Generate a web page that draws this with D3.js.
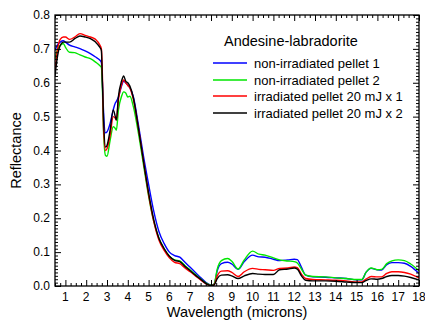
<!DOCTYPE html>
<html>
<head>
<meta charset="utf-8">
<script src="https://cdn.jsdelivr.net/npm/d3@7"></script>
<style>
  body { margin: 0; background: #fff; }
  svg { display: block; font-family: "Liberation Sans", Arial, sans-serif; }
</style>
</head>
<body>
<script>
// wavelength (microns)
const wavelengths = [
  0.5, 0.6, 0.75, 0.9, 1.0, 1.2, 1.45, 1.7, 1.95, 2.2,
  2.45, 2.65, 2.73, 2.78, 2.83, 2.93, 3.0, 3.15, 3.3, 3.4,
  3.45, 3.55, 3.7, 3.8, 3.9, 4.0, 4.1, 4.27, 4.5, 4.75,
  5.0, 5.25, 5.5, 5.75, 6.0, 6.25, 6.5, 6.75, 7.0, 7.25,
  7.5, 7.75, 8.0, 8.15, 8.3, 8.5, 8.8, 9.0, 9.3, 9.6,
  10.0, 10.3, 10.6, 11.0, 11.3, 11.7, 12.0, 12.15, 12.35, 12.55,
  12.9, 13.5, 14.0, 14.5, 15.0, 15.25, 15.45, 15.7, 16.0, 16.2,
  16.45, 16.7, 17.0, 17.3, 17.6, 18.0
];

const nonIrr1 = [
  0.695, 0.71, 0.72, 0.724, 0.72, 0.711, 0.706, 0.701, 0.694, 0.686,
  0.676, 0.667, 0.66, 0.60, 0.52, 0.452, 0.455, 0.48, 0.52, 0.54,
  0.545, 0.558, 0.59, 0.605, 0.60, 0.593, 0.585, 0.558, 0.48, 0.385,
  0.30, 0.22, 0.16, 0.125, 0.100, 0.09, 0.085, 0.07, 0.055, 0.04,
  0.025, 0.011, 0.003, 0.006, 0.045, 0.066, 0.07, 0.065, 0.049, 0.072,
  0.091, 0.086, 0.085, 0.079, 0.075, 0.077, 0.079, 0.078, 0.055, 0.032,
  0.027, 0.026, 0.024, 0.022, 0.018, 0.018, 0.04, 0.052, 0.048, 0.047,
  0.063, 0.069, 0.069, 0.067, 0.058, 0.037
];

const nonIrr2 = [
  0.67, 0.695, 0.71, 0.716, 0.705, 0.69, 0.689, 0.682, 0.676, 0.671,
  0.661, 0.651, 0.645, 0.58, 0.46, 0.385, 0.383, 0.43, 0.47, 0.465,
  0.46, 0.52, 0.56, 0.573, 0.57, 0.558, 0.56, 0.529, 0.455, 0.36,
  0.265, 0.19, 0.14, 0.11, 0.088, 0.077, 0.074, 0.06, 0.047, 0.034,
  0.021, 0.009, 0.002, 0.006, 0.05, 0.075, 0.081, 0.073, 0.05, 0.077,
  0.103, 0.094, 0.091, 0.083, 0.077, 0.074, 0.072, 0.068, 0.05, 0.032,
  0.028, 0.027, 0.024, 0.022, 0.019, 0.019, 0.04, 0.053, 0.048, 0.049,
  0.066, 0.074, 0.077, 0.075, 0.065, 0.045
];

const irr1 = [
  0.635, 0.69, 0.728, 0.735, 0.735, 0.728, 0.735, 0.745, 0.740, 0.735,
  0.728, 0.712, 0.700, 0.62, 0.47, 0.40, 0.405, 0.445, 0.50, 0.495,
  0.49, 0.55, 0.595, 0.608, 0.60, 0.592, 0.585, 0.55, 0.47, 0.37,
  0.27, 0.19, 0.135, 0.105, 0.083, 0.07, 0.066, 0.053, 0.042, 0.03,
  0.018, 0.007, 0.001, 0.004, 0.03, 0.044, 0.045, 0.04, 0.028, 0.042,
  0.052, 0.049, 0.048, 0.046, 0.052, 0.053, 0.056, 0.054, 0.035, 0.022,
  0.019, 0.018, 0.017, 0.015, 0.012, 0.012, 0.02, 0.028, 0.027, 0.027,
  0.037, 0.042, 0.042, 0.04, 0.035, 0.024
];

const irr2 = [
  0.62, 0.67, 0.71, 0.72, 0.72, 0.72, 0.73, 0.738, 0.735, 0.73,
  0.72, 0.705, 0.695, 0.60, 0.50, 0.41, 0.415, 0.46, 0.52, 0.50,
  0.49, 0.56, 0.605, 0.62, 0.605, 0.6, 0.59, 0.555, 0.47, 0.37,
  0.275, 0.195, 0.14, 0.11, 0.088, 0.076, 0.072, 0.058, 0.045, 0.032,
  0.02, 0.008, 0.001, 0.003, 0.022, 0.032, 0.033, 0.03, 0.022, 0.03,
  0.037, 0.035, 0.034, 0.034, 0.048, 0.05, 0.053, 0.05, 0.03, 0.017,
  0.015, 0.015, 0.014, 0.012, 0.01, 0.01, 0.016, 0.021, 0.02, 0.022,
  0.028, 0.031, 0.031, 0.029, 0.025, 0.018
];

const seriesNames = ['non-irradiated pellet 1', 'non-irradiated pellet 2',
                     'irradiated pellet 20 mJ x 1', 'irradiated pellet 20 mJ x 2'];
const seriesValues = [nonIrr1, nonIrr2, irr1, irr2];
const seriesColors = ['#0000ff', '#00e600', '#ff0000', '#000000'];

const xTicks = d3.range(1, 19);
const yTicks = [0.0, 0.1, 0.2, 0.3, 0.4, 0.5, 0.6, 0.7, 0.8];

// set up chart
const W = 425, H = 321;
const margin = { top: 15, right: 6, bottom: 35, left: 55 },
      width = W - margin.left - margin.right,
      height = H - margin.top - margin.bottom;

const svg = d3.select('body').append('svg')
    .attr('width', W)
    .attr('height', H);

const g = svg.append('g')
    .attr('transform', `translate(${margin.left},${margin.top})`);

const x = d3.scaleLinear().domain([0.5, 18]).range([0, width]);
const y = d3.scaleLinear().domain([0, 0.8]).range([height, 0]);

// clip
svg.append('defs').append('clipPath').attr('id', 'clip')
  .append('rect').attr('width', width).attr('height', height);

// lines
const line = d3.line()
    .x(d => x(d[0]))
    .y(d => y(d[1]))
    .curve(d3.curveMonotoneX);

const plot = g.append('g').attr('clip-path', 'url(#clip)');
seriesValues.forEach((vals, i) => {
  plot.append('path')
      .datum(wavelengths.map((w, k) => [w, vals[k]]))
      .attr('fill', 'none')
      .attr('stroke', seriesColors[i])
      .attr('stroke-width', 1.4)
      .attr('stroke-linejoin', 'round')
      .attr('d', line);
});

// axes: inward ticks on all four sides
const xMinor = d3.range(0.5, 18.001, 0.25).filter(v => Math.abs(v - Math.round(v)) > 1e-6);
const yMinor = d3.range(0, 80.5, 1).map(v => v / 100).filter(v => Math.round(v * 100) % 10 !== 0);

function ticks(axisFn, scale, values, size) {
  return axisFn(scale).tickValues(values).tickSize(size).tickFormat('');
}

g.append('g').attr('transform', `translate(0,${height})`)
  .call(ticks(d3.axisTop, x, xMinor, 3));
g.append('g').attr('transform', `translate(0,${height})`)
  .call(ticks(d3.axisTop, x, xTicks, 6));
g.append('g').call(ticks(d3.axisBottom, x, xMinor, 3));
g.append('g').call(ticks(d3.axisBottom, x, xTicks, 6));

g.append('g').call(ticks(d3.axisRight, y, yMinor, 3));
g.append('g').call(ticks(d3.axisRight, y, yTicks, 6));
g.append('g').attr('transform', `translate(${width},0)`)
  .call(ticks(d3.axisLeft, y, yMinor, 3));
g.append('g').attr('transform', `translate(${width},0)`)
  .call(ticks(d3.axisLeft, y, yTicks, 6));

g.selectAll('.domain').remove();
g.selectAll('.tick line').attr('stroke', '#000');

// frame
g.append('rect')
  .attr('width', width).attr('height', height)
  .attr('fill', 'none').attr('stroke', '#000').attr('stroke-width', 1.3);

// tick labels
g.selectAll('.xlab').data(xTicks).enter().append('text')
  .attr('x', d => x(d))
  .attr('y', height + 15)
  .attr('text-anchor', 'middle')
  .attr('font-size', 12)
  .text(d => d);

g.selectAll('.ylab').data(yTicks).enter().append('text')
  .attr('x', -5)
  .attr('y', d => y(d) + 4)
  .attr('text-anchor', 'end')
  .attr('font-size', 12)
  .text(d => d.toFixed(1));

// axis titles
g.append('text')
  .attr('x', width / 2)
  .attr('y', height + 31)
  .attr('text-anchor', 'middle')
  .attr('font-size', 14.5)
  .text('Wavelength (microns)');

g.append('text')
  .attr('transform', `translate(-34,${height / 2}) rotate(-90)`)
  .attr('text-anchor', 'middle')
  .attr('font-size', 14.5)
  .text('Reflectance');

// legend
const legend = svg.append('g');
legend.append('text')
  .attr('x', 224).attr('y', 46)
  .attr('font-size', 14.5)
  .text('Andesine-labradorite');

seriesNames.forEach((name, i) => {
  const ly = Math.round(63 + i * 16.5);
  legend.append('line')
    .attr('x1', 213).attr('x2', 247)
    .attr('y1', ly).attr('y2', ly)
    .attr('stroke', seriesColors[i]).attr('stroke-width', 1.5);
  legend.append('text')
    .attr('x', 254).attr('y', ly + 5)
    .attr('font-size', 13)
    .text(name);
});
</script>
</body>
</html>
